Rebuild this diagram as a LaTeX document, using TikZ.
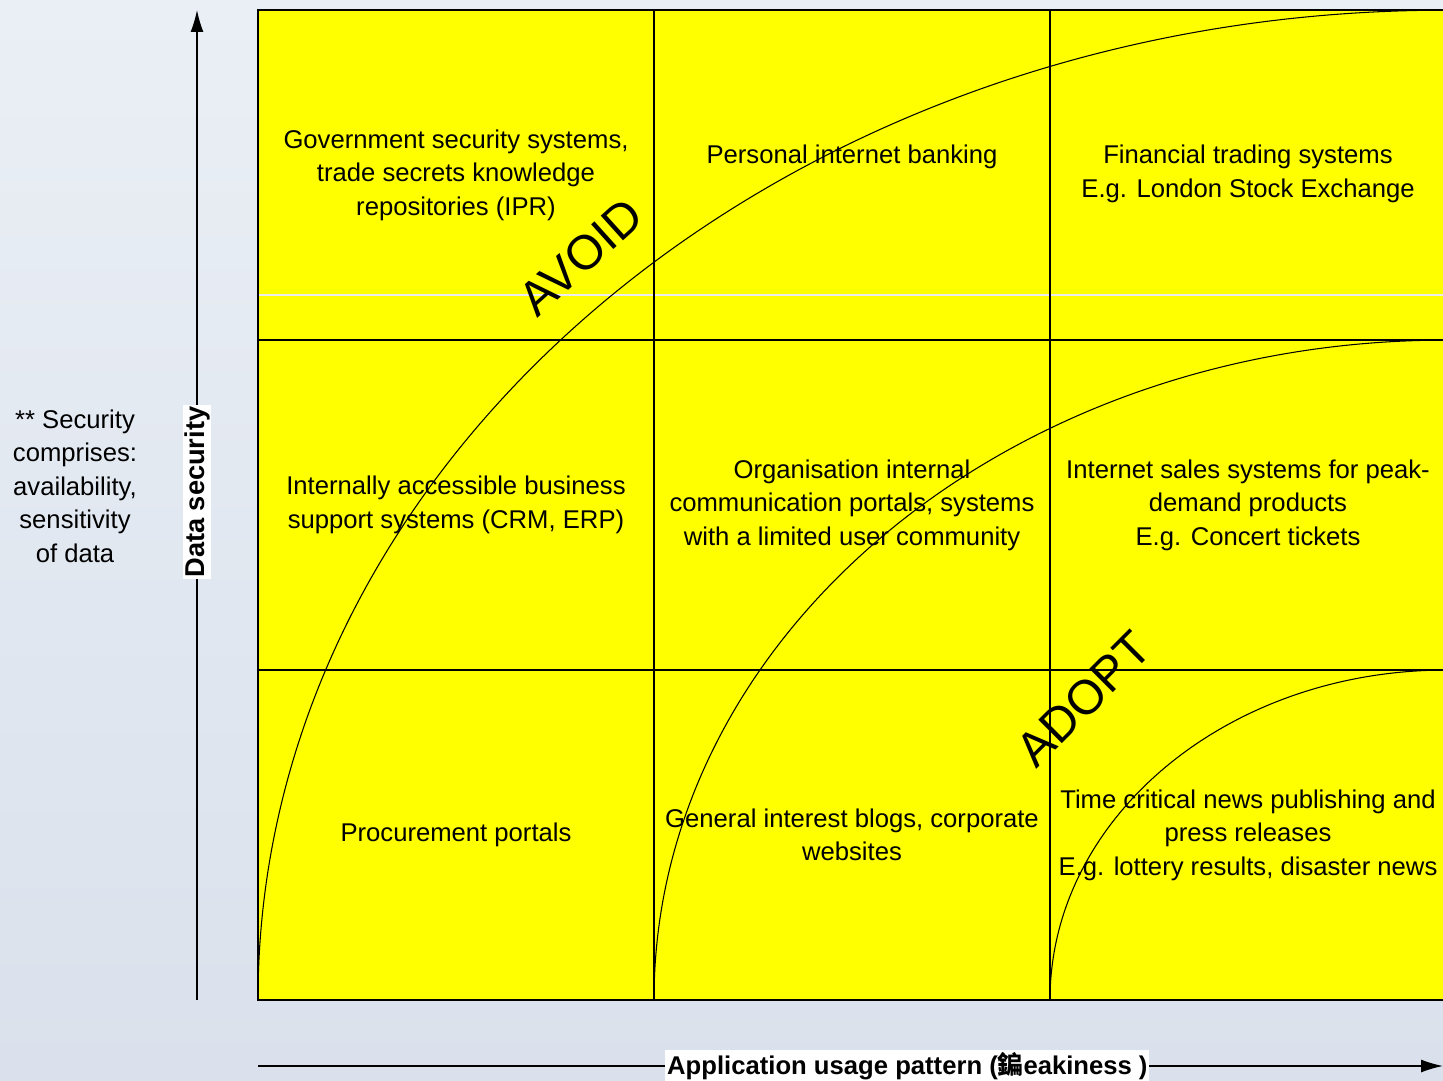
\documentclass[tikz,border=0pt]{standalone}
\usepackage{fontspec}
\setmainfont{Liberation Sans}
\newfontfamily\cjk{Noto Sans CJK SC}
\usepackage{xcolor}
\usetikzlibrary{arrows.meta}

\definecolor{slide}{RGB}{218,225,236}
\definecolor{slidelight}{RGB}{234,239,245}
\definecolor{cell}{RGB}{255,255,0}

\begin{document}
\begin{tikzpicture}[x=0.02cm,y=0.02cm,line width=0.7pt,
  celltext/.style={align=center,text=black,font=\fontsize{14.6}{19.1}\selectfont},
  bigword/.style={text=black,font=\fontsize{27.5}{30}\selectfont},
  axis/.style={draw=black,line width=0.8pt,-{Latex[length=0.44cm,width=0.26cm]}}]

\useasboundingbox (0,0) rectangle (1443,1080);
\shade[top color=slidelight,bottom color=slide] (0,0) rectangle (1443,1080);

\begin{scope}
\clip (0,0) rectangle (1443,1080);

% grid
\fill[cell] (258,80) rectangle (1460,1070);
\draw[white!85!gray,line width=0.6pt] (258,785) -- (1460,785);
\draw (258,80) rectangle (1460,1070);
\draw (654,80) -- (654,1070);
\draw (1050,80) -- (1050,1070);
\draw (258,410) -- (1460,410);
\draw (258,740) -- (1460,740);

% curves
\draw[line width=0.6pt] (258,80) arc[start angle=180,end angle=90,x radius=23.76cm,y radius=19.8cm];
\draw[line width=0.6pt] (654,80) arc[start angle=180,end angle=90,x radius=15.84cm,y radius=13.2cm];
\draw[line width=0.6pt] (1050,80) arc[start angle=180,end angle=90,x radius=7.92cm,y radius=6.6cm];
\end{scope}


% 1
\node[celltext] (govt) at (456,905) {Government security systems,\\trade secrets knowledge\\repositories (IPR)};
\node[celltext] (banking) at (852,923) {Personal internet banking};
\node[celltext] (trading) at (1248,906) {Financial trading systems\\E.g. London Stock Exchange};

% 2
\node[celltext] (crm) at (456,575) {Internally accessible business\\support systems (CRM, ERP)};
\node[celltext] (intranet) at (852,575) {Organisation internal\\communication portals, systems\\with a limited user community};
\node[celltext] (sales) at (1248,575) {Internet sales systems for peak-\\demand products\\E.g. Concert tickets};

% 3
\node[celltext] (procure) at (456,245) {Procurement portals};
\node[celltext] (blogs) at (852,245) {General interest blogs, corporate\\websites};
\node[celltext] (news) at (1248,245) {Time critical news publishing and\\press releases\\E.g. lottery results, disaster news};

\node[bigword,rotate=42] (avoid) at (581,823) {AVOID};
\node[bigword,rotate=45] (adopt) at (1084,381) {ADOPT};

% axes
\coordinate (ybot) at (197,80);
\coordinate (ytop) at (197,1070);
\coordinate (xleft) at (258,14);
\coordinate (xright) at (1443,14);

\draw[axis] (ybot) -- (ytop)
node[pos=0.513,name=ylabel,rotate=90,fill=white,inner sep=1pt,font=\fontsize{15.5}{18}\selectfont\bfseries] {Data security};
\draw[axis] (xleft) -- (xright)
node[pos=0.548,name=xlabel,fill=white,inner sep=1pt,font=\fontsize{14.6}{18}\selectfont\bfseries] {Application usage pattern ({\cjk 鍽}eakiness )};

\node[celltext] (note) at (75,594) {** Security\\comprises:\\availability,\\sensitivity\\of data};

\end{tikzpicture}
\end{document}
